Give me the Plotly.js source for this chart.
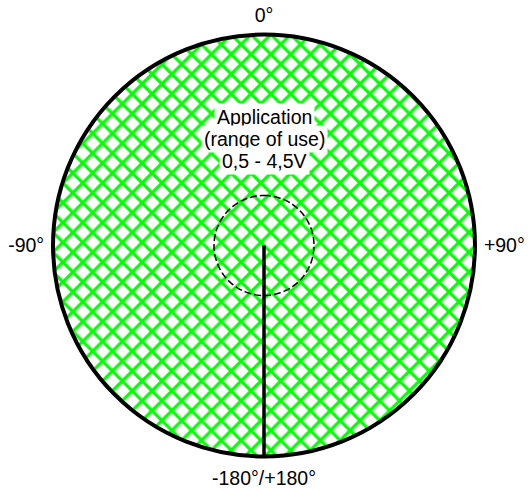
<!DOCTYPE html>
<html>
<head>
<meta charset="utf-8">
<script src="https://cdn.plot.ly/plotly-3.0.1.min.js"></script>
<style>html,body{margin:0;padding:0;background:#fff;}#chart{width:528px;height:490px;}</style>
</head>
<body>
<div id="chart"></div>
<script>
// ---- data ----
const rangeR = [1];            // full range of use (outer disc)
const rangeTheta = [0];
const rangeWidth = [360];
const innerRadius = 0.237;     // dashed inner circle radius (relative)
const innerTheta = [];
for (let a = 0; a <= 360; a += 3) innerTheta.push(a);
const innerR = innerTheta.map(() => innerRadius);
const pointerR = [0, 1];
const pointerTheta = [180, 180];
const tickVals = [0, 90, 180, 270];
const tickText = ['0°', '+90°', '-180°/+180°', '-90°'];
const labelLines = ['Application', '(range of use)', '0,5 - 4,5V'];
const labelY = [0.7612, 0.7163, 0.6714];

const FONT = 'Arial, "Liberation Sans", sans-serif';
const FS = 19.5;

const traces = [
  {
    type: 'barpolar',
    r: rangeR, theta: rangeTheta, width: rangeWidth,
    marker: {
      color: 'white',
      line: {width: 0},
      pattern: {shape: 'x', fgcolor: '#00ff00', bgcolor: 'white', size: 14, solidity: 0.4}
    },
    hoverinfo: 'skip', showlegend: false
  },
  {
    type: 'scatterpolar', mode: 'lines',
    r: innerR, theta: innerTheta,
    line: {color: 'black', width: 1.5, dash: '7px,3px'},
    hoverinfo: 'skip', showlegend: false
  },
  {
    type: 'scatterpolar', mode: 'lines',
    r: pointerR, theta: pointerTheta,
    line: {color: 'black', width: 3.5},
    hoverinfo: 'skip', showlegend: false
  }
];

const layout = {
  width: 528, height: 490,
  margin: {l: 0, r: 0, t: 0, b: 0},
  paper_bgcolor: 'white',
  showlegend: false,
  font: {family: FONT, size: FS, color: 'black'},
  polar: {
    domain: {x: [0.1004, 0.8996], y: [0.0653, 0.9327]},
    bgcolor: 'white',
    bargap: 0,
    radialaxis: {range: [0, 1], visible: false, showgrid: false, showline: false, showticklabels: false, ticks: ''},
    angularaxis: {
      rotation: 90, direction: 'clockwise',
      tickmode: 'array', tickvals: tickVals, ticktext: tickText,
      showgrid: false, showline: true, linecolor: 'black', linewidth: 4,
      ticks: 'outside', ticklen: 3, tickcolor: 'rgba(0,0,0,0)',
      tickfont: {family: FONT, size: FS, color: 'black'}
    }
  },
  annotations: labelLines.map((t, i) => ({
    text: t, xref: 'paper', yref: 'paper', x: 0.5, y: labelY[i],
    xanchor: 'center', yanchor: 'middle', showarrow: false,
    bgcolor: 'white', borderpad: 2,
    font: {family: FONT, size: FS, color: 'black'}
  }))
};

Plotly.newPlot('chart', traces, layout, {displayModeBar: false, staticPlot: true});
</script>
</body>
</html>
